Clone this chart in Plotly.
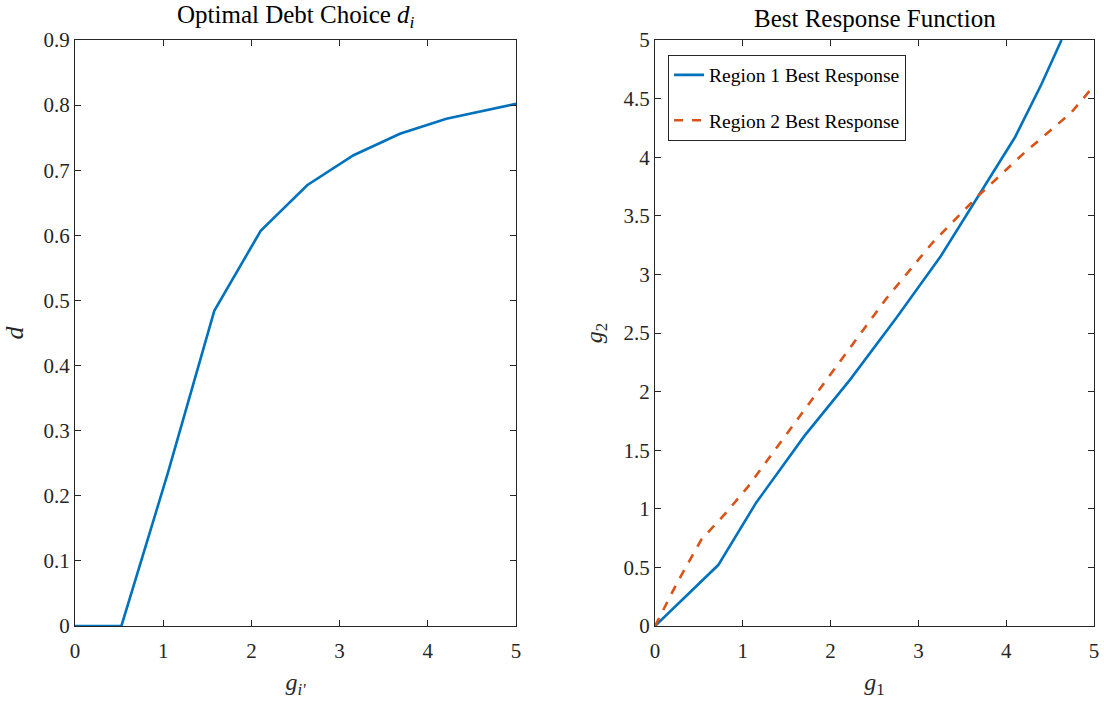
import plotly.graph_objects as go

# Left panel: optimal debt choice
g_left = [0, 0.526, 1.053, 1.579, 2.105, 2.632, 3.158, 3.684, 4.211, 4.737, 5.0]
d_left = [0, 0, 0.235, 0.484, 0.607, 0.677, 0.723, 0.756, 0.779, 0.794, 0.802]

# Right panel: best responses
g1_r1 = [0, 0.72, 1.15, 1.70, 2.22, 2.75, 3.25, 3.78, 4.10, 4.40, 4.63]
g2_r1 = [0, 0.52, 1.05, 1.62, 2.10, 2.63, 3.15, 3.79, 4.17, 4.62, 5.0]
g1_r2 = [0, 0.26, 0.53, 0.79, 1.05, 1.58, 2.10, 2.63, 3.16, 3.68, 4.21, 4.74, 5.0]
g2_r2 = [0, 0.38, 0.74, 0.95, 1.18, 1.72, 2.26, 2.79, 3.27, 3.67, 4.04, 4.38, 4.61]

left_yticks = [0, 0.1, 0.2, 0.3, 0.4, 0.5, 0.6, 0.7, 0.8, 0.9]
right_yticks = [0, 0.5, 1, 1.5, 2, 2.5, 3, 3.5, 4, 4.5, 5]
xticks = [0, 1, 2, 3, 4, 5]

BLUE = "#0072BD"
RED = "#D95319"
AX = "#262626"
FONT = "Liberation Serif, Times New Roman, DejaVu Serif, serif"

fig = go.Figure()
fig.add_trace(go.Scatter(x=g_left, y=d_left, mode="lines", line=dict(color=BLUE, width=2.6),
                         showlegend=False, xaxis="x", yaxis="y"))
fig.add_trace(go.Scatter(x=g1_r1, y=g2_r1, mode="lines", line=dict(color=BLUE, width=2.6),
                         name="Region 1 Best Response", legendgroup="a", xaxis="x2", yaxis="y2"))
fig.add_trace(go.Scatter(x=g1_r2, y=g2_r2, mode="lines", line=dict(color=RED, width=2.6, dash="dash"),
                         name="Region 2 Best Response", legendgroup="b", xaxis="x2", yaxis="y2"))

axis_common = dict(showline=True, linecolor=AX, linewidth=1, mirror="ticks", ticks="inside",
                   ticklen=6, tickcolor=AX, showgrid=False, zeroline=False, automargin=False,
                   tickfont=dict(family=FONT, size=21, color=AX))

fig.update_layout(
    width=1104, height=703,
    margin=dict(l=75, r=10, t=40, b=77),
    plot_bgcolor="white", paper_bgcolor="white",
    font=dict(family=FONT, color=AX),
    xaxis=dict(domain=[0, 0.4328], range=[0, 5], tickvals=xticks, anchor="y", ticklabelstandoff=6,
               title=dict(text="<i>g<sub>i'</sub></i>", font=dict(family=FONT, size=24), standoff=10),
               **axis_common),
    yaxis=dict(domain=[0, 1], range=[0, 0.9], tickvals=left_yticks, anchor="x",
               title=dict(text="<i>d</i>", font=dict(family=FONT, size=26), standoff=14),
               **axis_common),
    xaxis2=dict(domain=[0.5692, 1], range=[0, 5], tickvals=xticks, anchor="y2", ticklabelstandoff=6,
                title=dict(text="<i>g</i><sub>1</sub>", font=dict(family=FONT, size=24), standoff=10),
                **axis_common),
    yaxis2=dict(domain=[0, 1], range=[0, 5], tickvals=right_yticks, anchor="x2",
                title=dict(text="<i>g</i><sub>2</sub>", font=dict(family=FONT, size=24), standoff=14),
                **axis_common),
    legend=dict(x=0.582, y=0.975, xanchor="left", yanchor="top",
                bordercolor=AX, borderwidth=1, bgcolor="white",
                font=dict(family=FONT, size=19.5, color="black"),
                traceorder="grouped", tracegroupgap=17),
    annotations=[
        dict(text="Optimal Debt Choice <i>d<sub>i</sub></i>", x=0.2164, y=1.0, xref="paper", yref="paper",
             xanchor="center", yanchor="bottom", yshift=6, showarrow=False,
             font=dict(family=FONT, size=25, color="black")),
        dict(text="Best Response Function", x=0.7846, y=1.0, xref="paper", yref="paper",
             xanchor="center", yanchor="bottom", yshift=6, showarrow=False,
             font=dict(family=FONT, size=25, color="black")),
    ],
)

fig.write_html("out.html", config={"displayModeBar": False},
               post_script="document.body.style.margin='0px';")
